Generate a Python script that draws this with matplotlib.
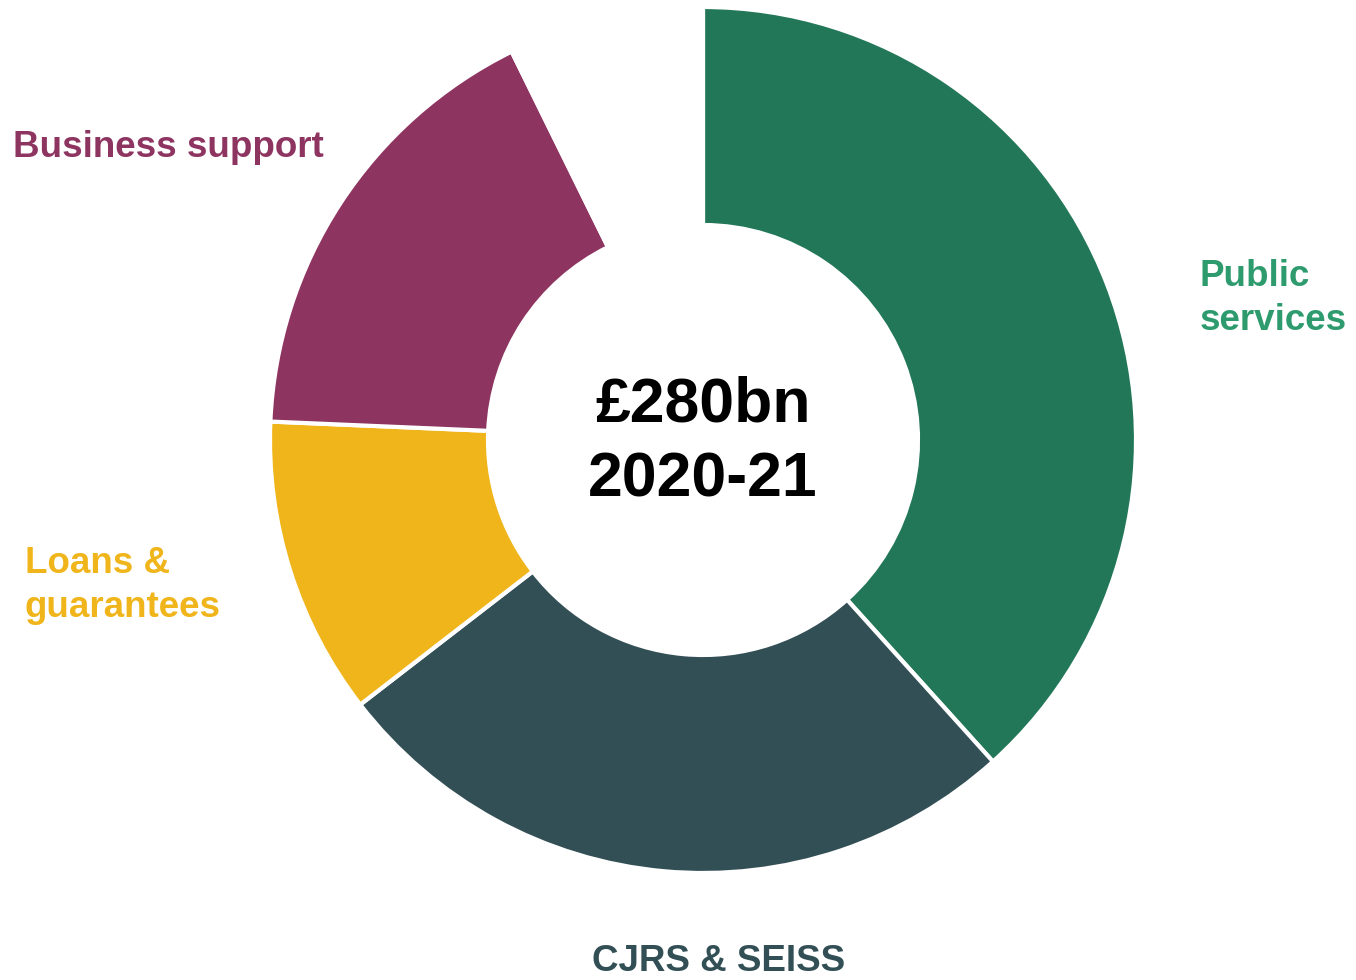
import matplotlib.pyplot as plt

plt.rcParams["font.family"] = ["Liberation Sans", "DejaVu Sans"]

# Spending breakdown, £bn (total £280bn); "Other" left blank
categories = ["Public services", "CJRS & SEISS", "Loans & guarantees", "Business support", "Other"]
values = [107.3, 73.4, 31.2, 47.7, 20.4]
wedge_colors = ["#237759", "#334F56", "#F0B51A", "#8E3460", "white"]

label_lines = {
    "Public services": ["Public", "services"],
    "CJRS & SEISS": ["CJRS & SEISS"],
    "Loans & guarantees": ["Loans &", "guarantees"],
    "Business support": ["Business support"],
}
label_colors = {
    "Public services": "#2E9B6E",
    "CJRS & SEISS": "#334F56",
    "Loans & guarantees": "#F0B51A",
    "Business support": "#8E3460",
}
# left/centre x and first baseline y, in pixel space (y down)
label_pos = {
    "Public services": (1200, 286, "left"),
    "CJRS & SEISS": (719, 971, "center"),
    "Loans & guarantees": (25, 573, "left"),
    "Business support": (13, 157, "left"),
}

W, H = 1356, 980
fig = plt.figure(figsize=(W / 100, H / 100), dpi=100)
ax = fig.add_axes([0, 0, 1, 1])

cx, cy = 703, H - 440
r_out, r_in = 433, 215

ax.pie(
    values,
    colors=wedge_colors,
    startangle=90,
    counterclock=False,
    center=(cx, cy),
    radius=r_out,
    wedgeprops=dict(width=r_out - r_in, edgecolor="white", linewidth=3),
    frame=True,
)
ax.set_xlim(0, W)
ax.set_ylim(0, H)
ax.set_aspect("equal")
ax.axis("off")

for cat, lines in label_lines.items():
    x, y, ha = label_pos[cat]
    for i, line in enumerate(lines):
        ax.text(x, H - (y + i * 44), line, fontsize=26.5, fontweight="bold",
                color=label_colors[cat], ha=ha, va="baseline")

total = sum(values)
ax.text(cx, H - 421, f"£{total:.0f}bn", fontsize=45, fontweight="bold",
        ha="center", va="baseline", color="black")
ax.text(cx, H - 497, "2020-21", fontsize=45, fontweight="bold",
        ha="center", va="baseline", color="black")

fig.savefig("out.png", dpi=100, facecolor="white")
